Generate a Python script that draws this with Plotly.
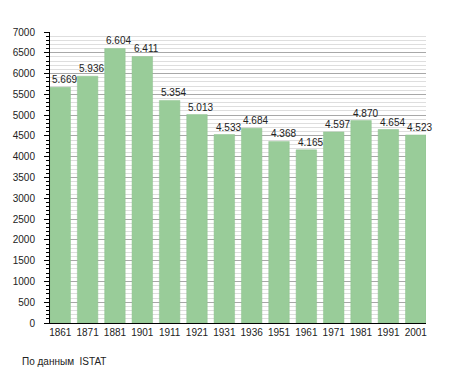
import plotly.graph_objects as go

years = ["1861", "1871", "1881", "1901", "1911", "1921", "1931", "1936", "1951", "1961", "1971", "1981", "1991", "2001"]
population = [5669, 5936, 6604, 6411, 5354, 5013, 4533, 4684, 4368, 4165, 4597, 4870, 4654, 4523]
y_ticks = list(range(0, 7001, 500))

labels = [f"{v:,}".replace(",", ".") for v in population]
BAR_W = 0.75

fig = go.Figure(go.Bar(
    x=years, y=population,
    marker=dict(color="#99cc99", line=dict(color="#8fc28f", width=0.5)),
    width=BAR_W,
))
annotations = [dict(x=i, y=v, text=t, xref="x", yref="y", xanchor="left", yanchor="bottom",
                    xshift=-10.5, yshift=0, showarrow=False,
                    font=dict(size=10, color="#222"))
               for i, (v, t) in enumerate(zip(population, labels))]
annotations.append(dict(text="По данным  ISTAT", xref="paper", yref="paper",
                        x=-0.08, y=-0.134, xanchor="left", yanchor="middle", showarrow=False,
                        font=dict(size=10, color="#222")))
fig.update_layout(
    width=455, height=373,
    margin=dict(l=42, r=37, t=24, b=58),
    paper_bgcolor="white", plot_bgcolor="white",
    font=dict(family="Liberation Sans, Arial, sans-serif", size=10, color="#222"),
    showlegend=False,
    annotations=annotations,
)
fig.update_xaxes(type="category", range=[-BAR_W / 2, len(years) - 1 + BAR_W / 2],
                 showline=True, linecolor="black", linewidth=1, ticks="", tickfont=dict(size=10),
                 showgrid=False, automargin=False)
fig.update_yaxes(range=[0, 7000], tickvals=y_ticks, showline=True, linecolor="black", linewidth=1,
                 ticks="outside", ticklen=5, tickcolor="black", automargin=False,
                 ticklabelstandoff=7, tickfont=dict(size=10),
                 showgrid=True, gridcolor="#a8a8a8", gridwidth=1, zeroline=False,
                 minor=dict(dtick=100, ticks="outside", ticklen=3, tickcolor="black",
                            showgrid=True, gridcolor="#dedede", gridwidth=1))
fig.write_html("out.html")
